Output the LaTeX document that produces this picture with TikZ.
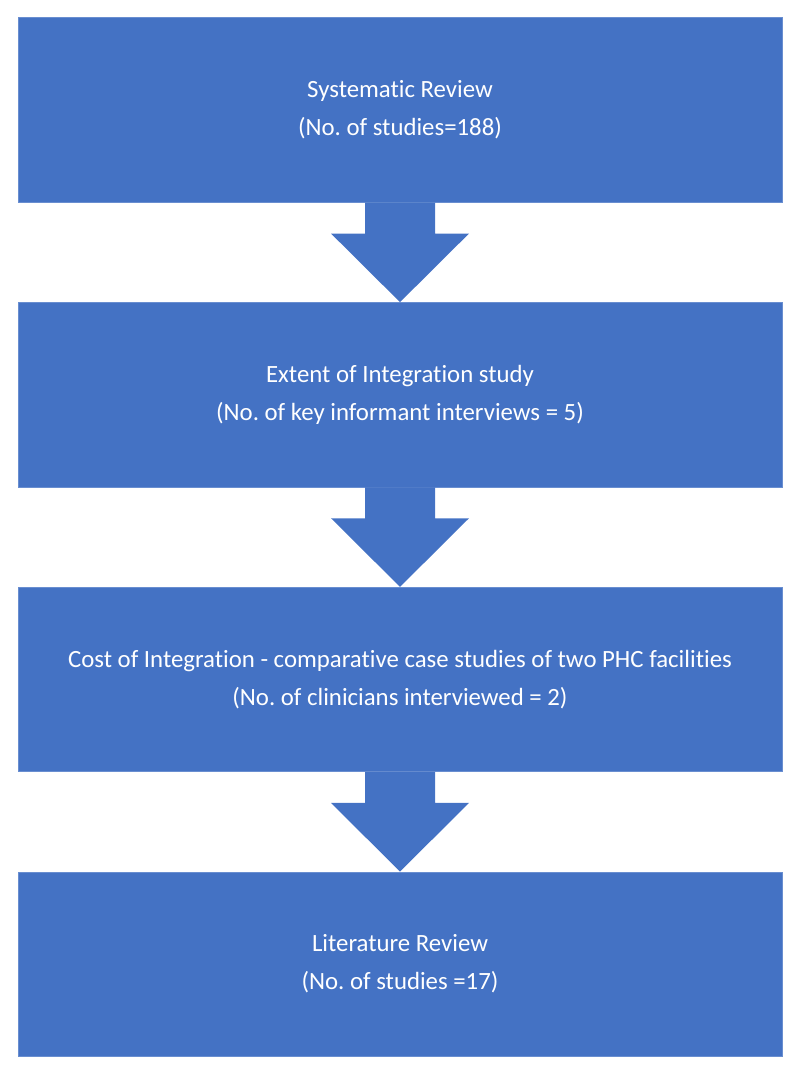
\documentclass[tikz,border=0pt]{standalone}
\usepackage{fontspec}
\setmainfont{Carlito}[Ligatures=NoCommon]
\definecolor{boxblue}{HTML}{4472C4}
\begin{document}
\frenchspacing
\begin{tikzpicture}[x=1pt,y=-1pt,
  stagebox/.style={fill=boxblue,draw=boxblue!80!white,line width=0.6pt,minimum width=764pt,minimum height=184.5pt,
    inner sep=0pt,align=center,text=white,font=\fontsize{24.8}{38}\selectfont},
  blockarrow/.style={fill=boxblue,draw=none}]
\useasboundingbox (0,0) rectangle (800,1074);
\node[stagebox] (b1) at (400,110) {Systematic Review\\(No. of studies=188)};
\node[stagebox] (b2) at (400,394.7) {Extent of Integration study\\(No. of key informant interviews = 5)};
\node[stagebox] (b3) at (400,679.4) {Cost of Integration - comparative case studies of two PHC facilities\\(No. of clinicians interviewed = 2)};
\node[stagebox] (b4) at (400,964.1) {Literature Review\\(No. of studies =17)};
\foreach \a/\b in {b1/b2,b2/b3,b3/b4}{
  \fill[blockarrow] ([xshift=-35pt]\a.south) -- ([xshift=-35pt,yshift=-31pt]\a.south) -- ([xshift=-69pt,yshift=-31pt]\a.south)
    -- (\b.north) -- ([xshift=69pt,yshift=-31pt]\a.south) -- ([xshift=35pt,yshift=-31pt]\a.south) -- ([xshift=35pt]\a.south) -- cycle;
}
\end{tikzpicture}
\end{document}
